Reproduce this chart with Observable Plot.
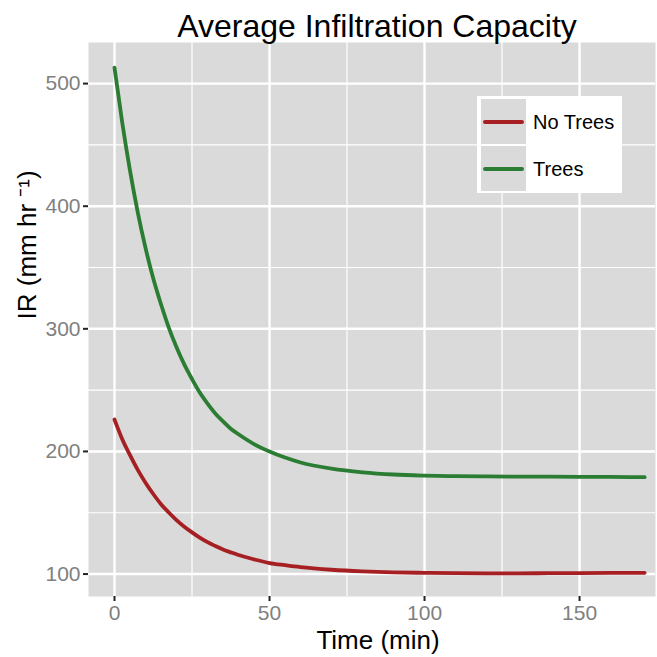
<!DOCTYPE html>
<html>
<head>
<meta charset="utf-8">
<script src="https://cdn.jsdelivr.net/npm/d3@7"></script>
<script src="https://cdn.jsdelivr.net/npm/@observablehq/plot@0.6"></script>
<style>
  html, body { margin: 0; padding: 0; background: #fff; }
  #wrap { position: relative; width: 657px; height: 657px; font-family: "Liberation Sans", Arial, Helvetica, sans-serif; }
  #title { position: absolute; left: 97px; width: 560px; top: 10px; font-size: 32px; line-height: 32px; text-align: center; color: #000; }
  #legend { position: absolute; left: 477px; top: 96px; width: 145px; height: 97px; background: #fff; }
  .key { position: absolute; left: 4px; width: 45px; height: 45px; background: #dadada; }
  .key .ln { position: absolute; left: 2px; right: 2px; top: 21px; height: 4px; border-radius: 2px; }
  .lab { position: absolute; left: 56px; font-size: 20px; line-height: 20px; color: #000; }
</style>
</head>
<body>
<div id="wrap">
  <div id="chart"></div>
  <div id="title"></div>
  <div id="legend"></div>
</div>
<script>
const chartTitle = "Average Infiltration Capacity";
const xLabel = "Time (min)";
const yLabel = "IR (mm hr \u207B\u00B9)";
const seriesNames = ["No Trees", "Trees"];
const seriesColors = ["#A61F22", "#2A7D33"];

const time    = [0, 2.5, 5, 7.5, 10, 12.5, 15, 17.5, 20, 22.5, 25, 27.5, 30, 32.5, 35, 37.5, 40, 45, 50, 55, 60, 70, 80, 90, 100, 110, 120, 130, 140, 150, 160, 171];
const noTrees = [226, 210, 197, 185, 174.5, 165.3, 157, 150.2, 144, 138.6, 134, 129.7, 126, 122.9, 120, 117.7, 115.5, 112, 109, 107.2, 105.6, 103.5, 102.2, 101.4, 101, 100.7, 100.6, 100.6, 100.7, 100.8, 100.9, 101];
const trees   = [513, 468, 429, 395, 366, 341, 320, 301, 285, 271, 259, 248, 239, 231, 224.5, 218.5, 214, 206, 200, 195, 191, 186, 183, 181.2, 180.3, 179.8, 179.6, 179.5, 179.4, 179.3, 179.2, 179];

const xMajor = [0, 50, 100, 150];
const xMinor = [25, 75, 125];
const yMajor = [100, 200, 300, 400, 500];
const yMinor = [150, 250, 350, 450];

const rows = [];
time.forEach((t, i) => {
  rows.push({time: t, value: noTrees[i], series: seriesNames[0]});
  rows.push({time: t, value: trees[i], series: seriesNames[1]});
});

const chart = Plot.plot({
  width: 657,
  height: 657,
  marginLeft: 88,
  marginRight: 2,
  marginTop: 42,
  marginBottom: 61,
  style: {fontFamily: "'Liberation Sans', Arial, Helvetica, sans-serif", background: "white"},
  x: {domain: [-8.39, 174.5]},
  y: {domain: [81.7, 533.5]},
  color: {domain: seriesNames, range: seriesColors},
  marks: [
    Plot.frame({fill: "#dadada", stroke: null}),
    Plot.gridX(xMinor, {stroke: "white", strokeOpacity: 1, strokeWidth: 1.2}),
    Plot.gridY(yMinor, {stroke: "white", strokeOpacity: 1, strokeWidth: 1.2}),
    Plot.gridX(xMajor, {stroke: "white", strokeOpacity: 1, strokeWidth: 2.4}),
    Plot.gridY(yMajor, {stroke: "white", strokeOpacity: 1, strokeWidth: 2.4}),
    Plot.line(rows, {x: "time", y: "value", z: "series", stroke: "series", strokeWidth: 3.8, curve: "monotone-x"}),
    Plot.axisX(xMajor, {tickSize: 5, tickPadding: 4, stroke: "#222", strokeWidth: 2, fill: "#808080", fontSize: 21, label: null}),
    Plot.axisY(yMajor, {tickSize: 5, tickPadding: 3, stroke: "#222", strokeWidth: 2, fill: "#808080", fontSize: 21, label: null}),
    Plot.text([yLabel], {frameAnchor: "left", dx: -61, rotate: -90, fontSize: 26, fill: "black"}),
    Plot.text([xLabel], {frameAnchor: "bottom", dx: 6, dy: 52, fontSize: 26, fill: "black"})
  ]
});
document.getElementById("chart").appendChild(chart);
document.getElementById("title").textContent = chartTitle;

const legend = document.getElementById("legend");
seriesNames.forEach((name, i) => {
  const key = document.createElement("div");
  key.className = "key";
  key.style.top = (3 + i * 47) + "px";
  const ln = document.createElement("div");
  ln.className = "ln";
  ln.style.background = seriesColors[i];
  key.appendChild(ln);
  legend.appendChild(key);
  const lab = document.createElement("div");
  lab.className = "lab";
  lab.style.top = (16 + i * 47) + "px";
  lab.textContent = name;
  legend.appendChild(lab);
});
</script>
</body>
</html>
